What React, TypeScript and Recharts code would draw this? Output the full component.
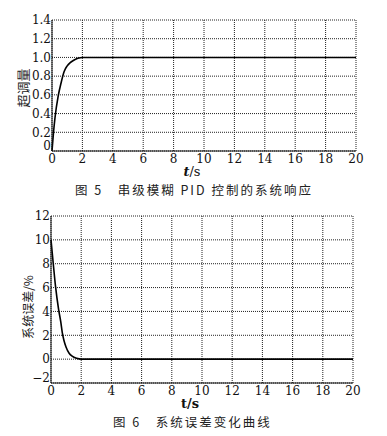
import React from 'react';
import { LineChart, Line, XAxis, YAxis, CartesianGrid } from 'recharts';

// Fig.5 - system response (overshoot)
const responseTime = [0, 0.1, 0.2, 0.4, 0.6, 0.8, 1.0, 1.2, 1.4, 1.7, 2.0, 20];
const responseValue = [0, 0.2, 0.36, 0.58, 0.73, 0.85, 0.91, 0.945, 0.967, 0.99, 1.0, 1.0];

// Fig.6 - system error (%)
const errorTime = [0, 0.15, 0.3, 0.5, 0.65, 0.75, 0.85, 1.0, 1.2, 1.4, 1.7, 2.0, 20];
const errorValue = [10, 8, 6.1, 4.2, 3.1, 2.2, 1.6, 1.0, 0.5, 0.25, 0.07, 0, 0];

const xTicks = [0, 2, 4, 6, 8, 10, 12, 14, 16, 18, 20];
const responseTicks = [0, 0.2, 0.4, 0.6, 0.8, 1.0, 1.2, 1.4];
const errorTicks = [-2, 0, 2, 4, 6, 8, 10, 12];

const responseData = responseTime.map((t, i) => ({ t, v: responseValue[i] }));
const errorData = errorTime.map((t, i) => ({ t, v: errorValue[i] }));

const SERIF = '"DejaVu Serif", "Liberation Serif", serif';
const CJK = '"Noto Sans CJK SC", sans-serif';
const xTickStyle = { fontSize: 12, fill: '#111', fontFamily: SERIF };

// y tick: the lowest label is lifted a little so it clears the x-axis "0"
const makeYTick = (lowest: number, fmt: (v: number) => string) => (props: any) => {
  const { x, y, payload } = props;
  const lift = payload.value === lowest ? -5 : 0;
  return (
    <text x={x} y={y + lift} dy="0.355em" textAnchor="end" fontSize={12} fontFamily={SERIF} fill="#111">
      {fmt(payload.value)}
    </text>
  );
};

const ResponseYTick = makeYTick(0, (v) => (v === 0 ? '0' : v.toFixed(1)));
const ErrorYTick = makeYTick(-2, (v) => (v < 0 ? `\u2212${Math.abs(v)}` : `${v}`));

function RotatedTitle({ x, y, text, size }: { x: number; y: number; text: string; size: number }) {
  return (
    <text
      x={x}
      y={y}
      transform={`rotate(-90 ${x} ${y})`}
      textAnchor="middle"
      dominantBaseline="central"
      fontSize={size}
      fontFamily={CJK}
      fill="#222"
    >
      {text}
    </text>
  );
}

function Caption({ top, left, children }: { top: number; left: number; children: React.ReactNode }) {
  return (
    <div
      style={{
        position: 'absolute',
        top,
        left,
        fontFamily: CJK,
        fontSize: 12.5,
        letterSpacing: 2,
        color: '#222',
        whiteSpace: 'pre',
        lineHeight: '16px',
      }}
    >
      {children}
    </div>
  );
}

export default function App() {
  return (
    <div style={{ position: 'absolute', left: 0, top: 0, width: 387, height: 436, background: '#fff', overflow: 'hidden' }}>
      <div style={{ position: 'absolute', left: 0, top: 0 }}>
        <LineChart width={387} height={180} data={responseData} margin={{ top: 20, right: 31, left: 0, bottom: 0 }}>
          <CartesianGrid stroke="#222" strokeDasharray="1 1" />
          <XAxis
            dataKey="t"
            type="number"
            domain={[0, 20]}
            ticks={xTicks}
            height={29}
            stroke="#111"
            tickLine={false}
            tickSize={0}
            tickMargin={3}
            tick={xTickStyle}
            interval={0}
          />
          <YAxis
            type="number"
            domain={[0, 1.4]}
            ticks={responseTicks}
            width={52}
            stroke="#111"
            tickLine={false}
            tickSize={0}
            tickMargin={1}
            tick={ResponseYTick}
            interval={0}
          />
          <Line type="monotone" dataKey="v" stroke="#000" strokeWidth={1.6} dot={false} isAnimationActive={false} />
          <RotatedTitle x={22} y={88} text="超调量" size={13} />
          <text x={192} y={176} textAnchor="middle" fontSize={13} fontFamily={SERIF} fill="#111">
            <tspan fontStyle="italic" fontWeight="bold">t</tspan>/s
          </text>
        </LineChart>
      </div>
      <Caption top={182} left={75}>{'图 5   串级模糊 PID 控制的系统响应'}</Caption>

      <div style={{ position: 'absolute', left: 0, top: 196 }}>
        <LineChart width={387} height={220} data={errorData} margin={{ top: 20, right: 34, left: 0, bottom: 0 }}>
          <CartesianGrid stroke="#222" strokeDasharray="1 1" />
          <XAxis
            dataKey="t"
            type="number"
            domain={[0, 20]}
            ticks={xTicks}
            height={33}
            stroke="#111"
            tickLine={false}
            tickSize={0}
            tickMargin={3}
            tick={xTickStyle}
            interval={0}
          />
          <YAxis
            type="number"
            domain={[-2, 12]}
            ticks={errorTicks}
            width={51}
            stroke="#111"
            tickLine={false}
            tickSize={0}
            tickMargin={1}
            tick={ErrorYTick}
            interval={0}
          />
          <Line type="monotone" dataKey="v" stroke="#000" strokeWidth={1.6} dot={false} isAnimationActive={false} />
          <RotatedTitle x={27} y={111} text="系统误差/%" size={12} />
          <text x={190} y={212} textAnchor="middle" fontSize={13} fontFamily={SERIF} fontWeight="bold" fill="#111">
            t/s
          </text>
        </LineChart>
      </div>
      <Caption top={414} left={113}>{'图 6   系统误差变化曲线'}</Caption>
    </div>
  );
}
